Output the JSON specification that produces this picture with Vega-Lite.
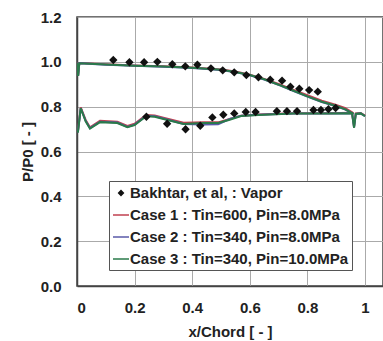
{
  "$schema": "https://vega.github.io/schema/vega-lite/v6.json",
  "width": 306,
  "height": 269,
  "autosize": {"type": "none"},
  "padding": {"left": 77, "top": 17, "right": 0, "bottom": 55},
  "background": "white",
  "config": {
    "view": {"stroke": "#444", "strokeWidth": 1.5},
    "font": "Liberation Sans",
    "axis": {
      "labelFont": "Liberation Sans", "labelFontSize": 15, "labelFontWeight": "bold", "labelColor": "#222",
      "titleFont": "Liberation Sans", "titleFontSize": 15, "titleFontWeight": "bold", "titleColor": "#222",
      "domainColor": "#444", "domainWidth": 1.5, "gridColor": "#aaa", "gridWidth": 1, "gridOpacity": 1,
      "ticks": false, "tickSize": 0
    }
  },
  "datasets": {
    "exp": [
      {"series": "Bakhtar, et al, : Vapor", "x": 0.126, "p": 1.008},
      {"series": "Bakhtar, et al, : Vapor", "x": 0.182, "p": 0.998},
      {"series": "Bakhtar, et al, : Vapor", "x": 0.233, "p": 0.998},
      {"series": "Bakhtar, et al, : Vapor", "x": 0.279, "p": 1.0},
      {"series": "Bakhtar, et al, : Vapor", "x": 0.331, "p": 0.989},
      {"series": "Bakhtar, et al, : Vapor", "x": 0.376, "p": 0.98},
      {"series": "Bakhtar, et al, : Vapor", "x": 0.418, "p": 0.987},
      {"series": "Bakhtar, et al, : Vapor", "x": 0.465, "p": 0.971},
      {"series": "Bakhtar, et al, : Vapor", "x": 0.506, "p": 0.962},
      {"series": "Bakhtar, et al, : Vapor", "x": 0.546, "p": 0.953},
      {"series": "Bakhtar, et al, : Vapor", "x": 0.588, "p": 0.941},
      {"series": "Bakhtar, et al, : Vapor", "x": 0.63, "p": 0.931},
      {"series": "Bakhtar, et al, : Vapor", "x": 0.671, "p": 0.92},
      {"series": "Bakhtar, et al, : Vapor", "x": 0.712, "p": 0.916},
      {"series": "Bakhtar, et al, : Vapor", "x": 0.741, "p": 0.889},
      {"series": "Bakhtar, et al, : Vapor", "x": 0.772, "p": 0.88},
      {"series": "Bakhtar, et al, : Vapor", "x": 0.806, "p": 0.874},
      {"series": "Bakhtar, et al, : Vapor", "x": 0.836, "p": 0.867},
      {"series": "Bakhtar, et al, : Vapor", "x": 0.241, "p": 0.755},
      {"series": "Bakhtar, et al, : Vapor", "x": 0.313, "p": 0.724},
      {"series": "Bakhtar, et al, : Vapor", "x": 0.377, "p": 0.699},
      {"series": "Bakhtar, et al, : Vapor", "x": 0.428, "p": 0.715},
      {"series": "Bakhtar, et al, : Vapor", "x": 0.47, "p": 0.752},
      {"series": "Bakhtar, et al, : Vapor", "x": 0.508, "p": 0.764},
      {"series": "Bakhtar, et al, : Vapor", "x": 0.546, "p": 0.77},
      {"series": "Bakhtar, et al, : Vapor", "x": 0.586, "p": 0.776},
      {"series": "Bakhtar, et al, : Vapor", "x": 0.62, "p": 0.776},
      {"series": "Bakhtar, et al, : Vapor", "x": 0.694, "p": 0.78},
      {"series": "Bakhtar, et al, : Vapor", "x": 0.729, "p": 0.78},
      {"series": "Bakhtar, et al, : Vapor", "x": 0.764, "p": 0.78},
      {"series": "Bakhtar, et al, : Vapor", "x": 0.821, "p": 0.785},
      {"series": "Bakhtar, et al, : Vapor", "x": 0.847, "p": 0.785},
      {"series": "Bakhtar, et al, : Vapor", "x": 0.873, "p": 0.789},
      {"series": "Bakhtar, et al, : Vapor", "x": 0.898, "p": 0.794}
    ],
    "cfd": [
      {"series": "Case 1 : Tin=600, Pin=8.0MPa", "surf": "u", "i": 1, "x": 0.0, "p": 0.997},
      {"series": "Case 1 : Tin=600, Pin=8.0MPa", "surf": "u", "i": 2, "x": 0.004, "p": 0.94},
      {"series": "Case 1 : Tin=600, Pin=8.0MPa", "surf": "u", "i": 3, "x": 0.008, "p": 0.995},
      {"series": "Case 1 : Tin=600, Pin=8.0MPa", "surf": "u", "i": 4, "x": 0.1, "p": 0.989},
      {"series": "Case 1 : Tin=600, Pin=8.0MPa", "surf": "u", "i": 5, "x": 0.2, "p": 0.984},
      {"series": "Case 1 : Tin=600, Pin=8.0MPa", "surf": "u", "i": 6, "x": 0.3, "p": 0.98},
      {"series": "Case 1 : Tin=600, Pin=8.0MPa", "surf": "u", "i": 7, "x": 0.4, "p": 0.975},
      {"series": "Case 1 : Tin=600, Pin=8.0MPa", "surf": "u", "i": 8, "x": 0.5, "p": 0.966},
      {"series": "Case 1 : Tin=600, Pin=8.0MPa", "surf": "u", "i": 9, "x": 0.55, "p": 0.957},
      {"series": "Case 1 : Tin=600, Pin=8.0MPa", "surf": "u", "i": 10, "x": 0.6, "p": 0.943},
      {"series": "Case 1 : Tin=600, Pin=8.0MPa", "surf": "u", "i": 11, "x": 0.65, "p": 0.924},
      {"series": "Case 1 : Tin=600, Pin=8.0MPa", "surf": "u", "i": 12, "x": 0.7, "p": 0.901},
      {"series": "Case 1 : Tin=600, Pin=8.0MPa", "surf": "u", "i": 13, "x": 0.75, "p": 0.876},
      {"series": "Case 1 : Tin=600, Pin=8.0MPa", "surf": "u", "i": 14, "x": 0.8, "p": 0.851},
      {"series": "Case 1 : Tin=600, Pin=8.0MPa", "surf": "u", "i": 15, "x": 0.85, "p": 0.827},
      {"series": "Case 1 : Tin=600, Pin=8.0MPa", "surf": "u", "i": 16, "x": 0.9, "p": 0.808},
      {"series": "Case 1 : Tin=600, Pin=8.0MPa", "surf": "u", "i": 17, "x": 0.93, "p": 0.794},
      {"series": "Case 1 : Tin=600, Pin=8.0MPa", "surf": "u", "i": 18, "x": 0.95, "p": 0.779},
      {"series": "Case 1 : Tin=600, Pin=8.0MPa", "surf": "u", "i": 19, "x": 0.96, "p": 0.77},
      {"series": "Case 1 : Tin=600, Pin=8.0MPa", "surf": "l", "i": 1, "x": 0.003, "p": 0.688},
      {"series": "Case 1 : Tin=600, Pin=8.0MPa", "surf": "l", "i": 2, "x": 0.013, "p": 0.797},
      {"series": "Case 1 : Tin=600, Pin=8.0MPa", "surf": "l", "i": 3, "x": 0.03, "p": 0.741},
      {"series": "Case 1 : Tin=600, Pin=8.0MPa", "surf": "l", "i": 4, "x": 0.045, "p": 0.708},
      {"series": "Case 1 : Tin=600, Pin=8.0MPa", "surf": "l", "i": 5, "x": 0.08, "p": 0.737},
      {"series": "Case 1 : Tin=600, Pin=8.0MPa", "surf": "l", "i": 6, "x": 0.14, "p": 0.733},
      {"series": "Case 1 : Tin=600, Pin=8.0MPa", "surf": "l", "i": 7, "x": 0.175, "p": 0.714},
      {"series": "Case 1 : Tin=600, Pin=8.0MPa", "surf": "l", "i": 8, "x": 0.2, "p": 0.724},
      {"series": "Case 1 : Tin=600, Pin=8.0MPa", "surf": "l", "i": 9, "x": 0.24, "p": 0.763},
      {"series": "Case 1 : Tin=600, Pin=8.0MPa", "surf": "l", "i": 10, "x": 0.27, "p": 0.761},
      {"series": "Case 1 : Tin=600, Pin=8.0MPa", "surf": "l", "i": 11, "x": 0.3, "p": 0.751},
      {"series": "Case 1 : Tin=600, Pin=8.0MPa", "surf": "l", "i": 12, "x": 0.37, "p": 0.728},
      {"series": "Case 1 : Tin=600, Pin=8.0MPa", "surf": "l", "i": 13, "x": 0.44, "p": 0.731},
      {"series": "Case 1 : Tin=600, Pin=8.0MPa", "surf": "l", "i": 14, "x": 0.49, "p": 0.73},
      {"series": "Case 1 : Tin=600, Pin=8.0MPa", "surf": "l", "i": 15, "x": 0.53, "p": 0.745},
      {"series": "Case 1 : Tin=600, Pin=8.0MPa", "surf": "l", "i": 16, "x": 0.57, "p": 0.76},
      {"series": "Case 1 : Tin=600, Pin=8.0MPa", "surf": "l", "i": 17, "x": 0.63, "p": 0.765},
      {"series": "Case 1 : Tin=600, Pin=8.0MPa", "surf": "l", "i": 18, "x": 0.75, "p": 0.771},
      {"series": "Case 1 : Tin=600, Pin=8.0MPa", "surf": "l", "i": 19, "x": 0.87, "p": 0.771},
      {"series": "Case 1 : Tin=600, Pin=8.0MPa", "surf": "l", "i": 20, "x": 0.955, "p": 0.773},
      {"series": "Case 1 : Tin=600, Pin=8.0MPa", "surf": "l", "i": 21, "x": 0.962, "p": 0.712},
      {"series": "Case 1 : Tin=600, Pin=8.0MPa", "surf": "l", "i": 22, "x": 0.968, "p": 0.77},
      {"series": "Case 1 : Tin=600, Pin=8.0MPa", "surf": "l", "i": 23, "x": 0.985, "p": 0.772},
      {"series": "Case 1 : Tin=600, Pin=8.0MPa", "surf": "l", "i": 24, "x": 1.0, "p": 0.76},

      {"series": "Case 2 : Tin=340, Pin=8.0MPa", "surf": "u", "i": 1, "x": 0.0, "p": 0.996},
      {"series": "Case 2 : Tin=340, Pin=8.0MPa", "surf": "u", "i": 2, "x": 0.004, "p": 0.938},
      {"series": "Case 2 : Tin=340, Pin=8.0MPa", "surf": "u", "i": 3, "x": 0.008, "p": 0.994},
      {"series": "Case 2 : Tin=340, Pin=8.0MPa", "surf": "u", "i": 4, "x": 0.1, "p": 0.987},
      {"series": "Case 2 : Tin=340, Pin=8.0MPa", "surf": "u", "i": 5, "x": 0.2, "p": 0.982},
      {"series": "Case 2 : Tin=340, Pin=8.0MPa", "surf": "u", "i": 6, "x": 0.3, "p": 0.978},
      {"series": "Case 2 : Tin=340, Pin=8.0MPa", "surf": "u", "i": 7, "x": 0.4, "p": 0.973},
      {"series": "Case 2 : Tin=340, Pin=8.0MPa", "surf": "u", "i": 8, "x": 0.5, "p": 0.964},
      {"series": "Case 2 : Tin=340, Pin=8.0MPa", "surf": "u", "i": 9, "x": 0.55, "p": 0.954},
      {"series": "Case 2 : Tin=340, Pin=8.0MPa", "surf": "u", "i": 10, "x": 0.6, "p": 0.94},
      {"series": "Case 2 : Tin=340, Pin=8.0MPa", "surf": "u", "i": 11, "x": 0.65, "p": 0.921},
      {"series": "Case 2 : Tin=340, Pin=8.0MPa", "surf": "u", "i": 12, "x": 0.7, "p": 0.897},
      {"series": "Case 2 : Tin=340, Pin=8.0MPa", "surf": "u", "i": 13, "x": 0.75, "p": 0.871},
      {"series": "Case 2 : Tin=340, Pin=8.0MPa", "surf": "u", "i": 14, "x": 0.8, "p": 0.845},
      {"series": "Case 2 : Tin=340, Pin=8.0MPa", "surf": "u", "i": 15, "x": 0.85, "p": 0.821},
      {"series": "Case 2 : Tin=340, Pin=8.0MPa", "surf": "u", "i": 16, "x": 0.9, "p": 0.802},
      {"series": "Case 2 : Tin=340, Pin=8.0MPa", "surf": "u", "i": 17, "x": 0.93, "p": 0.788},
      {"series": "Case 2 : Tin=340, Pin=8.0MPa", "surf": "u", "i": 18, "x": 0.95, "p": 0.774},
      {"series": "Case 2 : Tin=340, Pin=8.0MPa", "surf": "u", "i": 19, "x": 0.96, "p": 0.767},
      {"series": "Case 2 : Tin=340, Pin=8.0MPa", "surf": "l", "i": 1, "x": 0.003, "p": 0.685},
      {"series": "Case 2 : Tin=340, Pin=8.0MPa", "surf": "l", "i": 2, "x": 0.013, "p": 0.794},
      {"series": "Case 2 : Tin=340, Pin=8.0MPa", "surf": "l", "i": 3, "x": 0.03, "p": 0.737},
      {"series": "Case 2 : Tin=340, Pin=8.0MPa", "surf": "l", "i": 4, "x": 0.045, "p": 0.704},
      {"series": "Case 2 : Tin=340, Pin=8.0MPa", "surf": "l", "i": 5, "x": 0.08, "p": 0.733},
      {"series": "Case 2 : Tin=340, Pin=8.0MPa", "surf": "l", "i": 6, "x": 0.14, "p": 0.729},
      {"series": "Case 2 : Tin=340, Pin=8.0MPa", "surf": "l", "i": 7, "x": 0.175, "p": 0.71},
      {"series": "Case 2 : Tin=340, Pin=8.0MPa", "surf": "l", "i": 8, "x": 0.2, "p": 0.72},
      {"series": "Case 2 : Tin=340, Pin=8.0MPa", "surf": "l", "i": 9, "x": 0.24, "p": 0.759},
      {"series": "Case 2 : Tin=340, Pin=8.0MPa", "surf": "l", "i": 10, "x": 0.27, "p": 0.757},
      {"series": "Case 2 : Tin=340, Pin=8.0MPa", "surf": "l", "i": 11, "x": 0.3, "p": 0.747},
      {"series": "Case 2 : Tin=340, Pin=8.0MPa", "surf": "l", "i": 12, "x": 0.37, "p": 0.723},
      {"series": "Case 2 : Tin=340, Pin=8.0MPa", "surf": "l", "i": 13, "x": 0.44, "p": 0.72},
      {"series": "Case 2 : Tin=340, Pin=8.0MPa", "surf": "l", "i": 14, "x": 0.49, "p": 0.722},
      {"series": "Case 2 : Tin=340, Pin=8.0MPa", "surf": "l", "i": 15, "x": 0.53, "p": 0.745},
      {"series": "Case 2 : Tin=340, Pin=8.0MPa", "surf": "l", "i": 16, "x": 0.57, "p": 0.76},
      {"series": "Case 2 : Tin=340, Pin=8.0MPa", "surf": "l", "i": 17, "x": 0.63, "p": 0.764},
      {"series": "Case 2 : Tin=340, Pin=8.0MPa", "surf": "l", "i": 18, "x": 0.75, "p": 0.769},
      {"series": "Case 2 : Tin=340, Pin=8.0MPa", "surf": "l", "i": 19, "x": 0.87, "p": 0.769},
      {"series": "Case 2 : Tin=340, Pin=8.0MPa", "surf": "l", "i": 20, "x": 0.955, "p": 0.771},
      {"series": "Case 2 : Tin=340, Pin=8.0MPa", "surf": "l", "i": 21, "x": 0.962, "p": 0.708},
      {"series": "Case 2 : Tin=340, Pin=8.0MPa", "surf": "l", "i": 22, "x": 0.968, "p": 0.768},
      {"series": "Case 2 : Tin=340, Pin=8.0MPa", "surf": "l", "i": 23, "x": 0.985, "p": 0.77},
      {"series": "Case 2 : Tin=340, Pin=8.0MPa", "surf": "l", "i": 24, "x": 1.0, "p": 0.758},

      {"series": "Case 3 : Tin=340, Pin=10.0MPa", "surf": "u", "i": 1, "x": 0.0, "p": 0.996},
      {"series": "Case 3 : Tin=340, Pin=10.0MPa", "surf": "u", "i": 2, "x": 0.004, "p": 0.937},
      {"series": "Case 3 : Tin=340, Pin=10.0MPa", "surf": "u", "i": 3, "x": 0.008, "p": 0.994},
      {"series": "Case 3 : Tin=340, Pin=10.0MPa", "surf": "u", "i": 4, "x": 0.1, "p": 0.988},
      {"series": "Case 3 : Tin=340, Pin=10.0MPa", "surf": "u", "i": 5, "x": 0.2, "p": 0.983},
      {"series": "Case 3 : Tin=340, Pin=10.0MPa", "surf": "u", "i": 6, "x": 0.3, "p": 0.979},
      {"series": "Case 3 : Tin=340, Pin=10.0MPa", "surf": "u", "i": 7, "x": 0.4, "p": 0.974},
      {"series": "Case 3 : Tin=340, Pin=10.0MPa", "surf": "u", "i": 8, "x": 0.5, "p": 0.965},
      {"series": "Case 3 : Tin=340, Pin=10.0MPa", "surf": "u", "i": 9, "x": 0.55, "p": 0.955},
      {"series": "Case 3 : Tin=340, Pin=10.0MPa", "surf": "u", "i": 10, "x": 0.6, "p": 0.941},
      {"series": "Case 3 : Tin=340, Pin=10.0MPa", "surf": "u", "i": 11, "x": 0.65, "p": 0.922},
      {"series": "Case 3 : Tin=340, Pin=10.0MPa", "surf": "u", "i": 12, "x": 0.7, "p": 0.898},
      {"series": "Case 3 : Tin=340, Pin=10.0MPa", "surf": "u", "i": 13, "x": 0.75, "p": 0.872},
      {"series": "Case 3 : Tin=340, Pin=10.0MPa", "surf": "u", "i": 14, "x": 0.8, "p": 0.846},
      {"series": "Case 3 : Tin=340, Pin=10.0MPa", "surf": "u", "i": 15, "x": 0.85, "p": 0.822},
      {"series": "Case 3 : Tin=340, Pin=10.0MPa", "surf": "u", "i": 16, "x": 0.9, "p": 0.803},
      {"series": "Case 3 : Tin=340, Pin=10.0MPa", "surf": "u", "i": 17, "x": 0.93, "p": 0.789},
      {"series": "Case 3 : Tin=340, Pin=10.0MPa", "surf": "u", "i": 18, "x": 0.95, "p": 0.775},
      {"series": "Case 3 : Tin=340, Pin=10.0MPa", "surf": "u", "i": 19, "x": 0.96, "p": 0.768},
      {"series": "Case 3 : Tin=340, Pin=10.0MPa", "surf": "l", "i": 1, "x": 0.003, "p": 0.684},
      {"series": "Case 3 : Tin=340, Pin=10.0MPa", "surf": "l", "i": 2, "x": 0.013, "p": 0.793},
      {"series": "Case 3 : Tin=340, Pin=10.0MPa", "surf": "l", "i": 3, "x": 0.03, "p": 0.735},
      {"series": "Case 3 : Tin=340, Pin=10.0MPa", "surf": "l", "i": 4, "x": 0.045, "p": 0.702},
      {"series": "Case 3 : Tin=340, Pin=10.0MPa", "surf": "l", "i": 5, "x": 0.08, "p": 0.731},
      {"series": "Case 3 : Tin=340, Pin=10.0MPa", "surf": "l", "i": 6, "x": 0.14, "p": 0.727},
      {"series": "Case 3 : Tin=340, Pin=10.0MPa", "surf": "l", "i": 7, "x": 0.175, "p": 0.708},
      {"series": "Case 3 : Tin=340, Pin=10.0MPa", "surf": "l", "i": 8, "x": 0.2, "p": 0.718},
      {"series": "Case 3 : Tin=340, Pin=10.0MPa", "surf": "l", "i": 9, "x": 0.24, "p": 0.757},
      {"series": "Case 3 : Tin=340, Pin=10.0MPa", "surf": "l", "i": 10, "x": 0.27, "p": 0.755},
      {"series": "Case 3 : Tin=340, Pin=10.0MPa", "surf": "l", "i": 11, "x": 0.3, "p": 0.745},
      {"series": "Case 3 : Tin=340, Pin=10.0MPa", "surf": "l", "i": 12, "x": 0.37, "p": 0.723},
      {"series": "Case 3 : Tin=340, Pin=10.0MPa", "surf": "l", "i": 13, "x": 0.44, "p": 0.727},
      {"series": "Case 3 : Tin=340, Pin=10.0MPa", "surf": "l", "i": 14, "x": 0.49, "p": 0.727},
      {"series": "Case 3 : Tin=340, Pin=10.0MPa", "surf": "l", "i": 15, "x": 0.53, "p": 0.742},
      {"series": "Case 3 : Tin=340, Pin=10.0MPa", "surf": "l", "i": 16, "x": 0.57, "p": 0.758},
      {"series": "Case 3 : Tin=340, Pin=10.0MPa", "surf": "l", "i": 17, "x": 0.63, "p": 0.763},
      {"series": "Case 3 : Tin=340, Pin=10.0MPa", "surf": "l", "i": 18, "x": 0.75, "p": 0.769},
      {"series": "Case 3 : Tin=340, Pin=10.0MPa", "surf": "l", "i": 19, "x": 0.87, "p": 0.769},
      {"series": "Case 3 : Tin=340, Pin=10.0MPa", "surf": "l", "i": 20, "x": 0.955, "p": 0.771},
      {"series": "Case 3 : Tin=340, Pin=10.0MPa", "surf": "l", "i": 21, "x": 0.962, "p": 0.706},
      {"series": "Case 3 : Tin=340, Pin=10.0MPa", "surf": "l", "i": 22, "x": 0.968, "p": 0.768},
      {"series": "Case 3 : Tin=340, Pin=10.0MPa", "surf": "l", "i": 23, "x": 0.985, "p": 0.77},
      {"series": "Case 3 : Tin=340, Pin=10.0MPa", "surf": "l", "i": 24, "x": 1.0, "p": 0.758}
    ]
  },
  "encoding": {
    "x": {"field": "x", "type": "quantitative", "scale": {"domain": [0, 1.0625], "nice": false}, "axis": {"title": "x/Chord [ - ]", "values": [0, 0.2, 0.4, 0.6, 0.8, 1], "format": "~g", "labelPadding": 14, "titlePadding": 9}},
    "y": {"field": "p", "type": "quantitative", "scale": {"domain": [0, 1.2], "nice": false}, "axis": {"title": "P/P0 [ - ]", "values": [0, 0.2, 0.4, 0.6, 0.8, 1.0, 1.2], "format": ".1f", "labelPadding": 16, "titlePadding": 5}},
    "color": {
      "field": "series", "type": "nominal",
      "scale": {
        "domain": ["Bakhtar, et al, : Vapor", "Case 1 : Tin=600, Pin=8.0MPa", "Case 2 : Tin=340, Pin=8.0MPa", "Case 3 : Tin=340, Pin=10.0MPa"],
        "range": ["#111111", "#c0404f", "#5a5aa8", "#2a7a4a"]
      },
      "legend": {
        "orient": "none", "legendX": 32, "legendY": 164, "title": null,
        "fillColor": "white", "strokeColor": "#555", "padding": 3, "rowPadding": 5,
        "labelFont": "Liberation Sans", "labelFontSize": 15, "labelFontWeight": "bold", "labelColor": "#222", "labelOffset": 0, "labelLimit": 0,
        "symbolSize": 256, "symbolType": "stroke", "symbolStrokeWidth": 1.5,
        "encode": {
          "symbols": {
            "update": {
              "shape": {"signal": "datum.value === 'Bakhtar, et al, : Vapor' ? 'diamond' : 'stroke'"},
              "size": {"signal": "datum.value === 'Bakhtar, et al, : Vapor' ? 22 : 256"},
              "fill": {"signal": "datum.value === 'Bakhtar, et al, : Vapor' ? '#111' : 'transparent'"},
              "stroke": {"scale": "color", "field": "value"},
              "strokeWidth": {"value": 1.5}
            }
          }
        }
      }
    }
  },
  "layer": [
    {
      "data": {"name": "cfd"},
      "mark": {"type": "line", "strokeWidth": 2, "clip": true},
      "encoding": {"detail": {"field": "surf"}, "order": {"field": "i", "type": "quantitative"}}
    },
    {
      "data": {"name": "exp"},
      "mark": {"type": "point", "shape": "diamond", "filled": true, "size": 70, "opacity": 1}
    }
  ]
}
